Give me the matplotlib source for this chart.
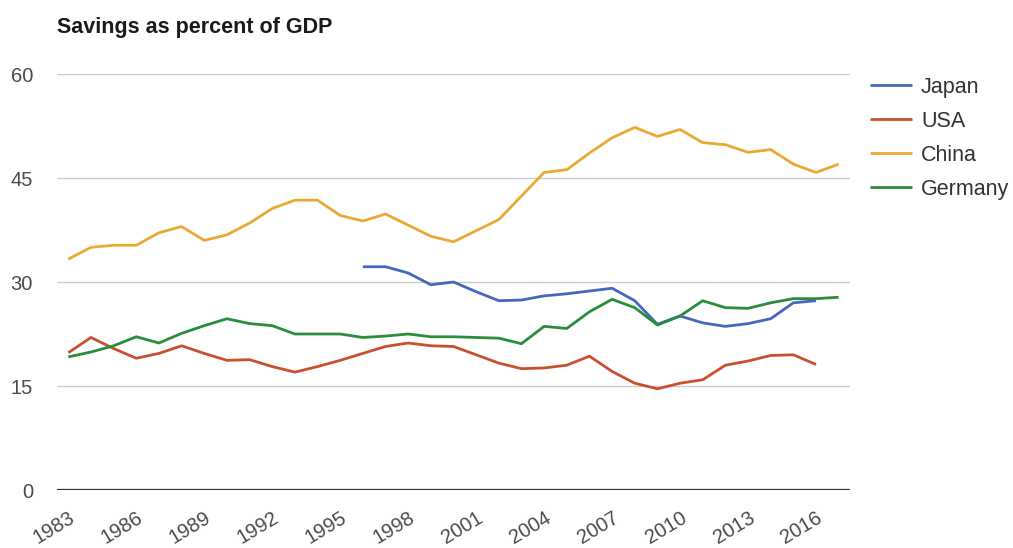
import matplotlib
matplotlib.use("Agg")
import matplotlib.pyplot as plt

years = list(range(1983, 2018))
japan_years = list(range(1996, 2017))
japan = [32.2, 32.2, 31.3, 29.6, 30.0, 28.6, 27.3, 27.4, 28.0, 28.3, 28.7,
         29.1, 27.3, 23.9, 25.1, 24.1, 23.6, 24.0, 24.7, 27.0, 27.3]
usa_years = list(range(1983, 2017))
usa = [19.8, 22.0, 20.4, 19.0, 19.7, 20.8, 19.7, 18.7, 18.8, 17.8, 17.0, 17.8,
       18.7, 19.7, 20.7, 21.2, 20.8, 20.7, 19.5, 18.3, 17.5, 17.6, 18.0, 19.3,
       17.1, 15.4, 14.6, 15.4, 15.9, 18.0, 18.6, 19.4, 19.5, 18.1]
china = [33.3, 35.0, 35.3, 35.3, 37.1, 38.0, 36.0, 36.8, 38.5, 40.6, 41.8, 41.8,
         39.6, 38.8, 39.8, 38.2, 36.6, 35.8, 37.4, 39.0, 42.4, 45.8, 46.2, 48.6,
         50.8, 52.3, 51.0, 52.0, 50.1, 49.8, 48.7, 49.1, 47.0, 45.8, 47.0]
germany = [19.2, 19.9, 20.8, 22.1, 21.2, 22.6, 23.7, 24.7, 24.0, 23.7, 22.5, 22.5,
           22.5, 22.0, 22.2, 22.5, 22.1, 22.1, 22.0, 21.9, 21.1, 23.6, 23.3, 25.7,
           27.5, 26.3, 23.8, 25.1, 27.3, 26.3, 26.2, 27.0, 27.6, 27.6, 27.8]
yticks = [0, 15, 30, 45, 60]
xtick_years = list(range(1983, 2017, 3))

plt.rcParams['font.family'] = ['Liberation Sans', 'DejaVu Sans']

fig = plt.figure(figsize=(10.13, 5.48), dpi=100)
ax = fig.add_axes([57/1013, 1-490/548, (850-57)/1013, (490-74)/548])

lw = 2.0
ax.plot(japan_years, japan, color='#4567bd', lw=lw, label='Japan', solid_capstyle='butt')
ax.plot(usa_years, usa, color='#c9502f', lw=lw, label='USA', solid_capstyle='butt')
ax.plot(years, china, color='#e9aa33', lw=lw, label='China', solid_capstyle='butt')
ax.plot(years, germany, color='#2b8d3a', lw=lw, label='Germany', solid_capstyle='butt')

ax.set_xlim(1982.5, 2017.5)
ax.set_ylim(0, 60)
ax.set_yticks(yticks)
ax.set_yticklabels([str(v) for v in yticks], fontsize=14.5, color='#4a4a4a')
ax.set_xticks(xtick_years)
ax.set_xticklabels([str(y) for y in xtick_years], fontsize=14.5, color='#4a4a4a',
                   rotation=31, ha='right', va='top', rotation_mode='anchor')
ax.tick_params(axis='both', length=0)
ax.tick_params(axis='y', pad=17.3)
ax.tick_params(axis='x', pad=13)
for s in ax.spines.values():
    s.set_visible(False)
ax.grid(axis='y', color='#cccccc', lw=1)
ax.grid(axis='x', visible=False)
ax.axhline(0, color='#333333', lw=1.6, zorder=3)
ax.set_axisbelow(True)

fig.text(57/1013, 1-28/548, 'Savings as percent of GDP', fontsize=15.5, fontweight='bold',
         color='#1a1a1a', va='center', ha='left')

leg = ax.legend(loc='upper left', bbox_to_anchor=(870/1013, 1-77/548),
                bbox_transform=fig.transFigure, frameon=False, fontsize=15.5,
                handlelength=1.95, handletextpad=0.42, labelspacing=0.6,
                borderaxespad=0, borderpad=0)
for t in leg.get_texts():
    t.set_color('#333333')

fig.savefig('out.png', dpi=100, facecolor='white')
